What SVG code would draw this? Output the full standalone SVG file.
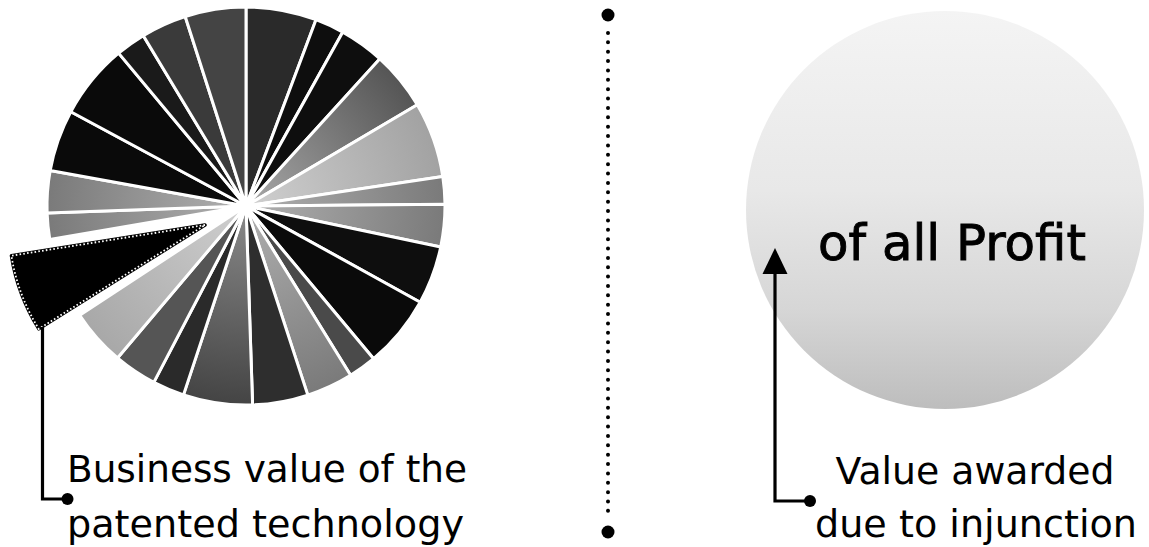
<svg xmlns="http://www.w3.org/2000/svg" width="1149" height="547" viewBox="0 0 1149 547">
<style>
.sl{stroke:#fff;stroke-width:3;stroke-linejoin:round}
.ln{fill:none;stroke:#000;stroke-width:3.2}
.lbl{font-family:"DejaVu Sans","Open Sans",sans-serif;font-size:37px;fill:#000}
.big{font-family:"DejaVu Sans","Open Sans",sans-serif;font-size:49.5px;fill:#000;stroke:#000;stroke-width:0.9}
</style>
<defs>
<radialGradient id="gA" gradientUnits="userSpaceOnUse" cx="246" cy="206" r="199"><stop offset="0" stop-color="#a8a8a8"/><stop offset="1" stop-color="#555"/></radialGradient>
<radialGradient id="gB" gradientUnits="userSpaceOnUse" cx="246" cy="206" r="199"><stop offset="0" stop-color="#d0d0d0"/><stop offset="1" stop-color="#a2a2a2"/></radialGradient>
<radialGradient id="gC" gradientUnits="userSpaceOnUse" cx="246" cy="206" r="199"><stop offset="0" stop-color="#b0b0b0"/><stop offset="1" stop-color="#7a7a7a"/></radialGradient>
<radialGradient id="gD" gradientUnits="userSpaceOnUse" cx="246" cy="206" r="199"><stop offset="0" stop-color="#8a8a8a"/><stop offset="1" stop-color="#444"/></radialGradient>
<radialGradient id="gE" gradientUnits="userSpaceOnUse" cx="246" cy="206" r="199"><stop offset="0" stop-color="#cfcfcf"/><stop offset="1" stop-color="#a8a8a8"/></radialGradient>
<linearGradient id="gR" x1="0" y1="0" x2="0" y2="1"><stop offset="0" stop-color="#f4f4f4"/><stop offset="0.45" stop-color="#e8e8e8"/><stop offset="0.75" stop-color="#d6d6d6"/><stop offset="1" stop-color="#bdbdbd"/></linearGradient>
</defs>

<g id="pie">
<path class="sl" fill="#2a2a2a" d="M246,206 L246,7 A199,199 0 0 1 316.0,19.7 Z"/>
<path class="sl" fill="#0e0e0e" d="M246,206 L316.0,19.7 A199,199 0 0 1 342.8,32.1 Z"/>
<path class="sl" fill="#0e0e0e" d="M246,206 L342.8,32.1 A199,199 0 0 1 379.9,58.8 Z"/>
<path class="sl" fill="url(#gA)" d="M246,206 L379.9,58.8 A199,199 0 0 1 417.3,104.7 Z"/>
<path class="sl" fill="url(#gB)" d="M246,206 L417.3,104.7 A199,199 0 0 1 442.8,176.6 Z"/>
<path class="sl" fill="url(#gC)" d="M246,206 L442.8,176.6 A199,199 0 0 1 445.0,204.3 Z"/>
<path class="sl" fill="url(#gC)" d="M246,206 L445.0,204.3 A199,199 0 0 1 440.7,247.0 Z"/>
<path class="sl" fill="#0e0e0e" d="M246,206 L440.7,247.0 A199,199 0 0 1 420.2,302.2 Z"/>
<path class="sl" fill="#0a0a0a" d="M246,206 L420.2,302.2 A199,199 0 0 1 373.6,358.7 Z"/>
<path class="sl" fill="#4a4a4a" d="M246,206 L373.6,358.7 A199,199 0 0 1 350.6,375.3 Z"/>
<path class="sl" fill="url(#gC)" d="M246,206 L350.6,375.3 A199,199 0 0 1 307.8,395.1 Z"/>
<path class="sl" fill="#2e2e2e" d="M246,206 L307.8,395.1 A199,199 0 0 1 252.6,404.9 Z"/>
<path class="sl" fill="url(#gD)" d="M246,206 L252.6,404.9 A199,199 0 0 1 183.5,394.9 Z"/>
<path class="sl" fill="#2a2a2a" d="M246,206 L183.5,394.9 A199,199 0 0 1 153.8,382.4 Z"/>
<path class="sl" fill="#555" d="M246,206 L153.8,382.4 A199,199 0 0 1 117.5,358.0 Z"/>
<path class="sl" fill="url(#gE)" d="M246,206 L117.5,358.0 A199,199 0 0 1 79.7,315.3 Z"/>
<path class="sl" fill="url(#gC)" d="M246,206 L49.8,239.5 A199,199 0 0 1 47.1,212.9 Z"/>
<path class="sl" fill="url(#gC)" d="M246,206 L47.1,212.9 A199,199 0 0 1 50.2,170.4 Z"/>
<path class="sl" fill="#0a0a0a" d="M246,206 L50.2,170.4 A199,199 0 0 1 70.8,111.7 Z"/>
<path class="sl" fill="#0a0a0a" d="M246,206 L70.8,111.7 A199,199 0 0 1 118.6,53.1 Z"/>
<path class="sl" fill="#1a1a1a" d="M246,206 L118.6,53.1 A199,199 0 0 1 143.2,35.6 Z"/>
<path class="sl" fill="#3a3a3a" d="M246,206 L143.2,35.6 A199,199 0 0 1 185.2,16.5 Z"/>
<path class="sl" fill="#444" d="M246,206 L185.2,16.5 A199,199 0 0 1 246,7 Z"/>
<circle cx="246" cy="206" r="8" fill="#fff"/>
</g>

<g id="exploded-slice">
<path d="M205,225 L11.4,255.7 A196,196 0 0 0 38.8,328.9 Z" fill="#000" stroke="#000" stroke-width="3.4" stroke-linejoin="round"/>
<path d="M205,225 L11.4,255.7 A196,196 0 0 0 38.8,328.9 Z" fill="none" stroke="#fff" stroke-width="1.8" stroke-dasharray="1.6 2.2"/>
</g>

<g id="profit-circle">
<circle cx="945" cy="210" r="199" fill="url(#gR)"/>
<text class="big" x="818" y="260" textLength="268" lengthAdjust="spacingAndGlyphs">of all Profit</text>
</g>

<g id="divider">
<line x1="608" y1="33" x2="608" y2="511" stroke="#000" stroke-width="4" stroke-linecap="round" stroke-dasharray="0 9.37"/>
<circle cx="608" cy="15" r="6.5" fill="#000"/>
<circle cx="608" cy="532" r="6.5" fill="#000"/>
</g>

<g id="connectors">
<path class="ln" d="M42.5,327 V499 H63"/>
<circle cx="67.5" cy="499" r="6" fill="#000"/>
<path class="ln" d="M775,270 V501 H806"/>
<polygon points="775,248 762.5,274 787.5,274" fill="#000"/>
<circle cx="810" cy="501" r="6" fill="#000"/>
</g>

<g id="label-business">
<text class="lbl" x="67" y="482" textLength="400" lengthAdjust="spacingAndGlyphs">Business value of the</text>
<text class="lbl" x="67" y="537" textLength="397" lengthAdjust="spacingAndGlyphs">patented technology</text>
</g>

<g id="label-awarded">
<text class="lbl" x="975" y="484" text-anchor="middle" textLength="279" lengthAdjust="spacingAndGlyphs">Value awarded</text>
<text class="lbl" x="976" y="537" text-anchor="middle" textLength="322" lengthAdjust="spacingAndGlyphs">due to injunction</text>
</g>
</svg>
